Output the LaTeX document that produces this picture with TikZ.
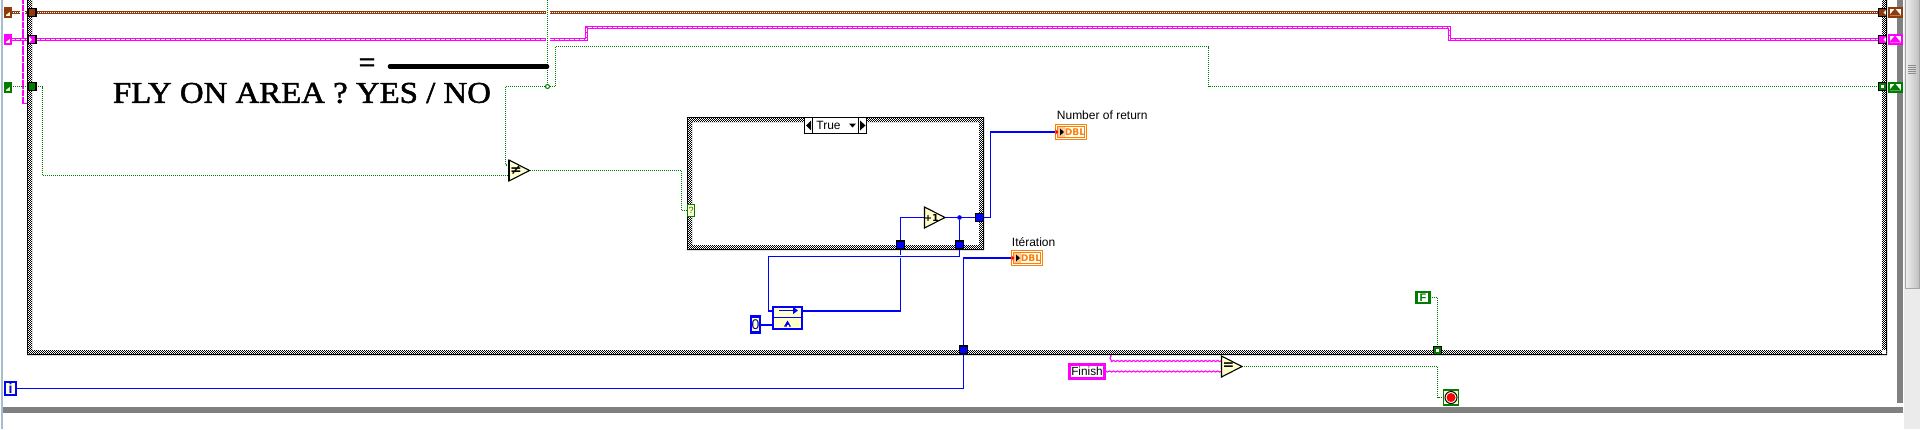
\documentclass[tikz,border=0pt]{standalone}
\usepackage{fontspec}
\usepackage{graphicx}
\setmainfont{Liberation Sans}
\newfontfamily\titlefont[FakeBold=1.6]{Liberation Serif}
\newfontfamily\djfont{DejaVu Sans}
\usetikzlibrary{decorations.pathmorphing,arrows.meta}
\pgfdeclarelayer{frames}\pgfdeclarelayer{wires}
\pgfsetlayers{frames,wires,main}
\definecolor{lvbrown}{HTML}{8F3A0C}
\definecolor{lvpink}{HTML}{FF00FF}
\definecolor{lvgreen}{HTML}{007C00}
\definecolor{lvblue}{HTML}{0000FF}
\definecolor{lvorange}{HTML}{FF8000}
\definecolor{lvcream}{HTML}{FFFFCC}
\definecolor{lvpeach}{HTML}{FFC898}
\definecolor{lvgray}{HTML}{808080}
\definecolor{lvedge}{HTML}{A8BCD0}
\tikzset{
  x=0.5pt,y=-0.5pt,
  bx/.style 2 args={minimum width=#1*0.5pt,minimum height=#2*0.5pt,inner sep=0pt,outer sep=0pt},
  brownw/.style={draw=lvbrown,line width=1.5pt,postaction={draw=white,line width=.5pt,dash pattern=on .5pt off .5pt}},
  pinkw/.style={draw=lvpink,line width=1.6pt,postaction={draw=white,line width=.45pt,dash pattern=on 2pt off .5pt}},
  greenw/.style={draw=lvgreen,line width=.6pt,dash pattern=on .5pt off .5pt},
  bluew/.style={draw=lvblue,line width=.6pt},
  stringw/.style={draw=lvpink,line width=.55pt,decorate,decoration={zigzag,amplitude=.28pt,segment length=2pt}},
  thinpink/.style={draw=lvpink,line width=.6pt,dash pattern=on 1.5pt off .2pt},
  tunnel/.style n args={3}{bx={#1}{#2},fill=#3,draw=black,line width=.6pt},
  term/.style={bx={13}{9},fill=white,line width=1pt},
  lterm/.style={bx={6}{9},fill=lvcream,line width=1pt},
  labeltxt/.style={font=\fontsize{6}{7}\selectfont,inner sep=0pt,text=black},
  dbltxt/.style={font=\djfont\bfseries\fontsize{4.6}{5}\selectfont,text=lvorange,inner sep=0pt},
  chk/.style={white,line width=.42pt,dash pattern=on .42pt off .58pt,dash phase=#1},
}
% checkered LabVIEW structure border, aligned on the pixel grid
\newcommand{\lvframe}[4]{%
  \fill[black,even odd rule] (#1,#2) rectangle (#3,#4) (#1+5,#2+5) rectangle (#3-5,#4-5);
  \foreach \o/\p in {1.5/0pt,2.5/.5pt,3.5/0pt,4.5/.5pt}{%
    \draw[chk=\p] (#1+1,#2+\o) -- (#3-1,#2+\o);
    \draw[chk=\p] (#1+1,#4-\o) -- (#3-1,#4-\o);
    \draw[chk=\p] (#1+\o,#2+1) -- (#1+\o,#4-1);
    \draw[chk=\p] (#3-\o,#2+1) -- (#3-\o,#4-1);
  }}
% comparison / increment primitive: name, left x, top y, glyph
\newcommand{\lvgate}[4]{%
  \draw[fill=lvcream,line width=.55pt,line join=miter] (#2,#3) -- (#2+20.5,#3+10.5) -- (#2,#3+21) -- cycle;
  \draw[line width=.9pt] (#2,#3) -- (#2,#3+21);
  \node[inner sep=0pt,font=\djfont\bfseries] (#1) at (#2+7,#3+10.5) {#4};
  \coordinate (#1-a) at (#2,#3+5);
  \coordinate (#1-b) at (#2,#3+15.5);
  \coordinate (#1-o) at (#2+20.5,#3+10.5);}
% left shift-register terminal: name, x, y, colour
\newcommand{\lterm}[4]{%
  \node[lterm,draw=#4] (#1) at (#2,#3) {};
  \fill[#4] (#2-3,#3-3.5) -- (#2+3,#3-3.5) -- (#2+3,#3-1) -- (#2-3,#3+3.5) -- cycle;}
% right shift-register terminal
\newcommand{\rterm}[4]{%
  \node[term,draw=#4] (#1) at (#2,#3) {};
  \fill[#4] (#2-6,#3+3.5) -- (#2,#3-3.5) -- (#2+6,#3+3.5) -- cycle;}
% numeric indicator
\newcommand{\lvind}[3]{%
  \node[bx={31}{15},draw=lvorange,fill=white,line width=.5pt] (#1) at (#2,#3) {};
  \draw[lvorange,line width=.5pt] (#2-13.5,#3-5.5) rectangle (#2+13.5,#3+5.5);
  \fill[lvpeach] (#2-13,#3-5) rectangle (#2-6,#3+5);
  \fill[black] (#2-11,#3-3.5) -- (#2-7,#3) -- (#2-11,#3+3.5) -- cycle;
  \fill[red] (#2-15.5,#3-2.5) -- (#2-12.5,#3) -- (#2-15.5,#3+2.5) -- cycle;
  \node[dbltxt] at (#2+4,#3) {DBL};}
\begin{document}
\begin{tikzpicture}
\useasboundingbox (0,0) rectangle (1920,429);

\begin{pgfonlayer}{frames}
  \fill[white] (0,0) rectangle (1920,429);
  % window furniture
  \fill[lvgray] (3,407) rectangle (1903,413);
  \fill[lvgray] (1897,0) rectangle (1903,403);
  \fill[black!8] (1904,0) rectangle (1920,429);
  \shade[top color=black!6,bottom color=black!6,left color=black!6,right color=black!25,draw=black!35,line width=.4pt] (1905,-3) rectangle (1919,288);
  \foreach \g in {65,67,69,71,73}{\draw[black!45,line width=.5pt] (1908,\g) -- (1916,\g);}
  \fill[lvedge] (1,0) rectangle (3.3,429);
  % structures
  \lvframe{27}{-20}{1887}{355}
  \lvframe{687}{117}{984}{250}
\end{pgfonlayer}

% ---------- nodes
\lterm{tlB}{8}{12}{lvbrown}
\lterm{tlP}{8}{39}{lvpink}
\lterm{tlG}{8}{87}{lvgreen}
\rterm{trB}{1895}{12}{lvbrown}
\rterm{trP}{1895}{39}{lvpink}
\rterm{trG}{1895}{87}{lvgreen}

\node[tunnel={8}{8}{lvbrown}] (inB) at (32,12.5) {};
\node[tunnel={8}{8}{lvpink}] (inP) at (32,39.5) {};
\fill[white] (29,36.5) -- (32,39.5) -- (29,42.5) -- cycle;
\node[tunnel={8}{8}{lvgreen}] (inG) at (32,86.5) {};
\node[tunnel={8}{8}{lvbrown}] (outB) at (1882.5,12.5) {};
\fill[white] (1886,10) -- (1883.5,12.5) -- (1886,15) -- cycle;
\node[tunnel={8}{8}{lvpink}] (outP) at (1882.5,39.5) {};
\fill[white] (1886,37) -- (1883.5,39.5) -- (1886,42) -- cycle;
\node[tunnel={8}{8}{lvgreen}] (outG) at (1882.5,86.5) {};
\fill[white] (1881,85) rectangle (1884,88);

\node[circle,draw=lvgreen,fill=white,line width=.5pt,minimum size=2pt,inner sep=0pt] (jG) at (547.5,86.5) {};
\coordinate (topG) at (547.5,-2);
\coordinate (b1) at (505.5,86.5);
\coordinate (b2) at (555.5,46.5);
\coordinate (b3) at (1208.5,46.5);
\coordinate (b4) at (42.5,86.5);
\coordinate (p1) at (586.5,27.5);
\coordinate (p2) at (1449.5,27.5);
\coordinate (gapL) at (545.5,12.5);
\coordinate (gapR) at (549.5,12.5);
\coordinate (gapPL) at (545.5,39.5);
\coordinate (gapPR) at (549.5,39.5);

\lvgate{ne}{509}{160}{\fontsize{7}{8}\selectfont ≠}
\lvgate{eq}{1221.5}{356}{\fontsize{7}{8}\selectfont =}
\lvgate{inc}{924.5}{207}{\fontsize{4.8}{5}\selectfont +1}

\node[bx={7}{11.5},draw=lvgreen,fill=lvcream,line width=.5pt,font=\fontsize{4.5}{5}\selectfont,text=lvgreen] (sel) at (691,210.5) {?};

% case selector
\node[bx={62}{16},draw=black,fill=white,line width=.55pt] (csel) at (835.5,125.5) {};
\draw[black,line width=.5pt] (812.5,117.5) -- (812.5,133.5) (858.5,117.5) -- (858.5,133.5);
\fill (811,120.5) -- (806,125.5) -- (811,130.5) -- cycle;
\fill (860,120.5) -- (865.5,125.5) -- (860,130.5) -- cycle;
\fill (849,123.5) -- (856,123.5) -- (852.5,127.5) -- cycle;
\node[labeltxt] (ctrue) at (828.5,125.5) {True};

\node[tunnel={8}{8}{lvblue}] (tA) at (900.5,245) {};
\node[tunnel={8}{8}{lvblue}] (tC) at (959.5,245) {};
\node[tunnel={8}{8}{lvblue}] (tO) at (979.5,217.5) {};
\node[tunnel={8}{8}{lvblue}] (tI) at (963.5,350) {};
\node[circle,fill=lvblue,minimum size=2.3pt,inner sep=0pt] (jB) at (959.5,217.5) {};

% shift-style primitive
\node[bx={29}{22},draw=lvblue,fill=lvcream,line width=1pt] (rsr) at (787.5,317.5) {};
\draw[lvblue,line width=.7pt] (773,317.5) -- (802,317.5);
\draw[lvblue,line width=.7pt,-{Triangle[length=2.5pt,width=3.5pt]}] (779,310.5) -- (798,310.5);
\fill[lvblue] (787.5,320.5) -- (791,326.5) -- (784,326.5) -- cycle;
\fill[white] (786.5,324.5) rectangle (788.5,326.5);
\coordinate (rsrIn) at (rsr.west |- 0,311);
\coordinate (rsrOut) at (rsr.east |- 0,311);
\coordinate (rsrK) at (rsr.west |- 0,325);
\node[bx={9.5}{16},draw=lvblue,fill=lvcream,line width=1.2pt,font=\fontsize{7}{8}\selectfont,text=lvblue!60!black] (zero) at (755.5,324.5) {0};
\coordinate (zeroOut) at (zero.east |- 0,325);

\coordinate (w1) at (768.5,256.5);
\coordinate (w2) at (959.5,256.5);
\coordinate (w3) at (900.5,258);
\coordinate (w4) at (900.5,254.7);
\coordinate (w5) at (990.5,217.5);

\lvind{numret}{1071}{132}
\lvind{iter}{1027}{258}
\node[labeltxt,anchor=west] (numlab) at (1056.5,115.5) {Number of return};
\node[labeltxt,anchor=west] (iterlab) at (1011.5,242) {Itération};

\node[bx={11}{12.5},draw=lvblue,fill=lvcream,line width=1.2pt,font=\fontsize{7}{8}\selectfont\bfseries,text=lvblue] (iT) at (10.5,388.5) {i};

\node[bx={13}{11},draw=lvgreen,fill=white,line width=1.2pt,font=\fontsize{5.5}{6}\selectfont\bfseries,text=lvgreen] (fc) at (1423,297.5) {F};
\node[tunnel={8}{8}{lvgreen}] (tF) at (1437.5,350.5) {};
\fill[white] (1436,349) rectangle (1439,352);

\node[bx={35}{14.5},draw=lvpink,fill=white,line width=1.5pt,font=\fontsize{5.9}{7}\selectfont] (finish) at (1087,371.5) {Finish};
\coordinate (tap) at (1110.5,355);

\node[bx={15}{15},draw=lvgreen,fill=lvcream,line width=.6pt] (stop) at (1451,397.5) {};
\fill[white] (1451,397.5) circle[radius=6.5];
\draw[black,line width=.5pt] (1451,397.5) circle[radius=6];
\fill[red] (1451,397.5) circle[radius=4.5];

% free text and bar
\node[inner sep=0pt,font=\titlefont\fontsize{15}{15}\selectfont] (title) at (302,93) {\resizebox{189pt}{10pt}{FLY ON AREA ? YES / NO}};
\node[inner sep=0pt,font=\titlefont\fontsize{15}{15}\selectfont] (eqsign) at (367,65.5) {=};
\coordinate (barL) at (390,66.5);
\coordinate (barR) at (547,66.5);
\draw[black,line width=2.3pt,line cap=round] (barL) -- (barR);

% ---------- wires
\begin{pgfonlayer}{wires}
  \draw[thinpink] (23,-2) -- (23,103.5) -- (27,103.5);
  % brown
  \draw[brownw] (tlB.east |- inB) -- (20,12.5);
  \draw[brownw] (25,12.5) -- (inB.west);
  \draw[brownw] (inB.east) -- (gapL);
  \draw[brownw] (gapR) -- (outB.west);
  % pink
  \draw[pinkw] (tlP.east |- inP) -- (inP.west);
  \draw[pinkw] (inP.east) -- (gapPL);
  \draw[pinkw] (gapPR) -| (p1) -- (p2) |- (outP.west);
  % green
  \draw[greenw] (tlG.east |- inG) -- (inG.west);
  \draw[greenw] (topG) -- (jG);
  \draw[greenw] (inG.east) -- (b4) |- (ne-b);
  \draw[greenw] (jG) -- (b1) |- (ne-a);
  \draw[greenw] (jG) -| (b2) -- (b3) |- (outG.west);
  \draw[greenw] (ne-o) -- (681.5,170.5) |- (sel.west);
  \draw[greenw] (fc.east) -| (tF.north);
  \draw[greenw] (eq-o) -| (1437.5,397.5) -- (stop.west);
  % blue
  \draw[bluew] (tA.center) |- (inc-a |- inc-o);
  \draw[bluew] (inc-o) -- (tO.west);
  \draw[bluew] (jB) -- (tC.north);
  \draw[bluew] (tC.south) -- (w2) -- (w1) |- (rsrIn);
  \draw[bluew] (rsrOut) -| (w3);
  \draw[bluew] (w4) -- (tA.south);
  \draw[bluew] (tO.east) -- (w5) |- (numret.west);
  \draw[bluew] (zeroOut) -- (rsrK);
  \draw[bluew] (iT.east) -| (tI.south);
  \draw[bluew] (tI.north) |- (iter.west);
  % string
  \draw[stringw] (finish.east) -- (eq-b);
  \draw[stringw] (tap) |- (eq-a);
\end{pgfonlayer}
\end{tikzpicture}
\end{document}
